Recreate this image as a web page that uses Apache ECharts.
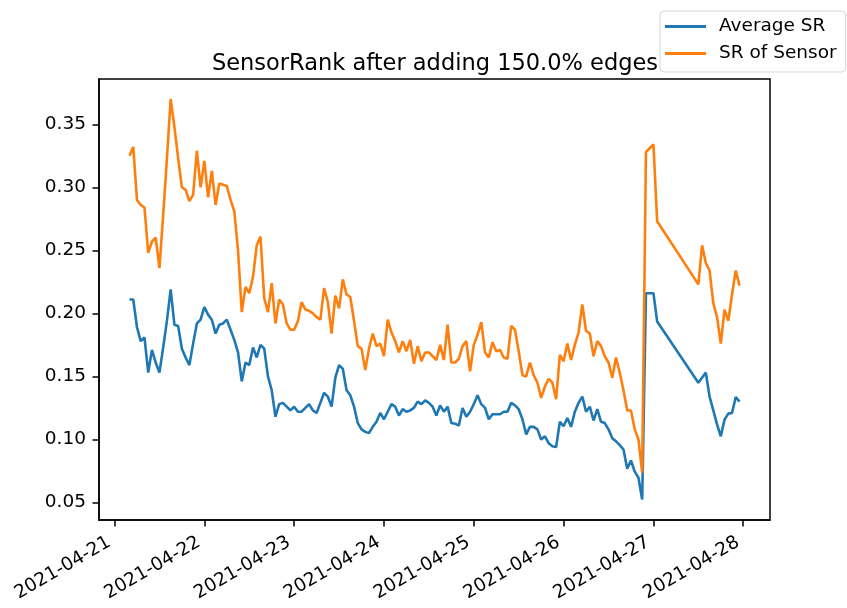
<!DOCTYPE html>
<html>
<head>
<meta charset="utf-8">
<script src="https://cdn.jsdelivr.net/npm/echarts@6/dist/echarts.min.js"></script>
<style>
  html, body { margin: 0; padding: 0; background: #fff; }
  #chart { width: 847px; height: 608px; }
</style>
</head>
<body>
<div id="chart"></div>
<script>
// hours since 2021-04-21 00:00
const hours = [
  4, 5, 6, 7, 8, 9, 10, 11, 12, 13, 14, 15, 16, 17, 18, 19, 20, 21, 22, 23,
  24, 25, 26, 27, 28, 29, 30, 31, 32, 33, 34, 35, 36, 37, 38, 39, 40, 41, 42, 43,
  44, 45, 46, 47, 48, 49, 50, 51, 52, 53, 54, 55, 56, 57, 58, 59, 60, 61, 62, 63,
  64, 65, 66, 67, 68, 69, 70, 71, 72, 73, 74, 75, 76, 77, 78, 79, 80, 81, 82, 83,
  84, 85, 86, 87, 88, 89, 90, 91, 92, 93, 94, 95, 96, 97, 98, 99, 100, 101, 102, 103,
  104, 105, 106, 107, 108, 109, 110, 111, 112, 113, 114, 115, 116, 117, 118, 119, 120, 121, 122, 123,
  124, 125, 126, 127, 128, 129, 130, 131, 132, 133, 134, 135, 136, 137, 138, 139, 140, 141, 142, 143,
  144, 145, 156, 157, 158, 159, 160, 161, 162, 163, 164, 165, 166, 167
];

const avgSR = [
  0.211, 0.211, 0.189, 0.178, 0.181, 0.153, 0.171, 0.161, 0.153, 0.173, 0.194, 0.219, 0.191, 0.190, 0.172, 0.165, 0.159, 0.176, 0.192, 0.195,
  0.205, 0.199, 0.195, 0.184, 0.191, 0.192, 0.195, 0.187, 0.179, 0.169, 0.146, 0.161, 0.159, 0.173, 0.165, 0.175, 0.172, 0.150, 0.139, 0.118,
  0.128, 0.129, 0.126, 0.123, 0.126, 0.122, 0.122, 0.125, 0.128, 0.123, 0.121, 0.129, 0.137, 0.134, 0.126, 0.149, 0.159, 0.156, 0.139, 0.135,
  0.126, 0.113, 0.108, 0.106, 0.105, 0.110, 0.114, 0.121, 0.116, 0.122, 0.128, 0.126, 0.119, 0.124, 0.122, 0.123, 0.125, 0.130, 0.128, 0.131,
  0.129, 0.126, 0.119, 0.127, 0.122, 0.126, 0.113, 0.1125, 0.111, 0.125, 0.118, 0.122, 0.128, 0.135, 0.128, 0.125, 0.116, 0.120, 0.120, 0.120,
  0.122, 0.122, 0.129, 0.127, 0.124, 0.116, 0.104, 0.110, 0.110, 0.108, 0.100, 0.1025, 0.097, 0.0946, 0.094, 0.114, 0.1105, 0.117, 0.110, 0.122,
  0.129, 0.134, 0.122, 0.126, 0.115, 0.124, 0.114, 0.113, 0.108, 0.101, 0.0985, 0.0955, 0.092, 0.0767, 0.0833, 0.0745, 0.0696, 0.0524, 0.216, 0.216,
  0.216, 0.1935, 0.145, 0.149, 0.153, 0.134, 0.123, 0.112, 0.1025, 0.1157, 0.1205, 0.121, 0.1337, 0.130
];

const sensorSR = [
  0.325, 0.332, 0.290, 0.286, 0.284, 0.248, 0.257, 0.260, 0.236, 0.278, 0.323, 0.370, 0.348, 0.323, 0.300, 0.298, 0.289, 0.294, 0.329, 0.300,
  0.321, 0.292, 0.313, 0.286, 0.303, 0.302, 0.301, 0.290, 0.281, 0.250, 0.201, 0.221, 0.216, 0.229, 0.254, 0.261, 0.212, 0.201, 0.224, 0.192,
  0.211, 0.207, 0.192, 0.187, 0.187, 0.194, 0.209, 0.203, 0.202, 0.200, 0.197, 0.195, 0.220, 0.209, 0.184, 0.214, 0.204, 0.227, 0.215, 0.213,
  0.194, 0.174, 0.172, 0.155, 0.172, 0.184, 0.174, 0.176, 0.166, 0.195, 0.185, 0.178, 0.169, 0.178, 0.170, 0.179, 0.160, 0.174, 0.162, 0.169,
  0.169, 0.166, 0.163, 0.175, 0.163, 0.191, 0.161, 0.161, 0.164, 0.174, 0.178, 0.154, 0.175, 0.183, 0.193, 0.169, 0.165, 0.177, 0.170, 0.171,
  0.165, 0.164, 0.190, 0.187, 0.170, 0.151, 0.150, 0.161, 0.151, 0.145, 0.133, 0.142, 0.148, 0.145, 0.132, 0.167, 0.162, 0.176, 0.163, 0.175,
  0.185, 0.207, 0.186, 0.184, 0.166, 0.178, 0.174, 0.166, 0.161, 0.149, 0.165, 0.153, 0.139, 0.123, 0.123, 0.108, 0.100, 0.0735, 0.328, 0.331,
  0.334, 0.273, 0.223, 0.254, 0.240, 0.234, 0.208, 0.197, 0.176, 0.203, 0.194, 0.215, 0.234, 0.222
];

const dayTicks = ['2021-04-21', '2021-04-22', '2021-04-23', '2021-04-24',
                  '2021-04-25', '2021-04-26', '2021-04-27', '2021-04-28'];
const yTicks = [0.05, 0.10, 0.15, 0.20, 0.25, 0.30, 0.35];

const FONT = 'DejaVu Sans';
// x axis is in hours from the first day; tick positions are the day boundaries
const dayHours = dayTicks.map((d, i) => i * 24);

const chart = echarts.init(document.getElementById('chart'));
chart.setOption({
  animation: false,
  title: {
    text: 'SensorRank after adding 150.0% edges',
    left: 430,
    top: 48,
    textAlign: 'center',
    textStyle: { fontFamily: FONT, fontSize: 22.5, fontWeight: 'normal', color: '#000' }
  },
  legend: {
    orient: 'vertical',
    left: 660,
    top: 11,
    padding: [5, 9, 8, 5],
    itemGap: 6,
    itemWidth: 41,
    itemHeight: 3,
    icon: 'rect',
    backgroundColor: 'rgba(255,255,255,0.8)',
    borderColor: 'rgba(204,204,204,0.8)',
    borderWidth: 1,
    borderRadius: 4,
    textStyle: { fontFamily: FONT, fontSize: 18.5, color: '#000', lineHeight: 21, padding: [0, 0, 0, 8] },
    data: ['Average SR', 'SR of Sensor']
  },
  grid: {
    left: 99, right: 77, top: 79, bottom: 88,
    show: true, borderColor: '#000', borderWidth: 1.5,
    outerBoundsMode: 'none'
  },
  xAxis: {
    type: 'value',
    min: -4.15,
    max: 175.15,
    splitLine: { show: false },
    axisLine: { onZero: false, lineStyle: { color: '#000', width: 1.5 } },
    axisTick: { show: true, length: 6.5, lineStyle: { color: '#000', width: 1.5 }, customValues: dayHours },
    axisLabel: {
      customValues: dayHours,
      rotate: 30,
      margin: 18,
      padding: [0, 6, 0, 0],
      fontFamily: FONT, fontSize: 18.5, color: '#000',
      formatter: v => dayTicks[Math.round(v / 24)]
    }
  },
  yAxis: {
    type: 'value',
    min: 0.0361,
    max: 0.3859,
    splitLine: { show: false },
    axisLine: { show: true, onZero: false, lineStyle: { color: '#000', width: 1.5 } },
    axisTick: { show: true, length: 6.5, lineStyle: { color: '#000', width: 1.5 }, customValues: yTicks },
    axisLabel: {
      customValues: yTicks,
      margin: 13,
      fontFamily: FONT, fontSize: 18.5, color: '#000',
      formatter: v => v.toFixed(2)
    }
  },
  series: [
    {
      name: 'Average SR',
      type: 'line',
      symbol: 'none',
      color: '#1f77b4',
      lineStyle: { width: 2.6, color: '#1f77b4' },
      data: hours.map((h, i) => [h, avgSR[i]])
    },
    {
      name: 'SR of Sensor',
      type: 'line',
      symbol: 'none',
      color: '#ff7f0e',
      lineStyle: { width: 2.6, color: '#ff7f0e' },
      data: hours.map((h, i) => [h, sensorSR[i]])
    }
  ]
});
</script>
</body>
</html>
